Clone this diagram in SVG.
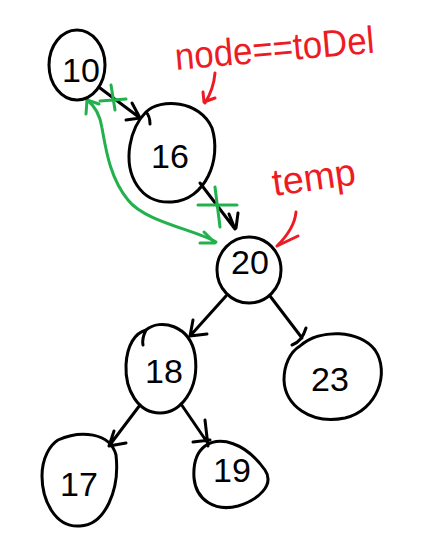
<svg xmlns="http://www.w3.org/2000/svg" width="434" height="547" viewBox="0 0 434 547">
  <style>
    .ink { fill: none; stroke: #000; stroke-width: 3; stroke-linecap: round; stroke-linejoin: round; }
    .green { fill: none; stroke: #22b14c; stroke-width: 3; stroke-linecap: round; stroke-linejoin: round; }
    .red { fill: none; stroke: #ed1c24; stroke-width: 3; stroke-linecap: round; stroke-linejoin: round; }
    .num { font-family: "Liberation Sans", "DejaVu Sans", sans-serif; font-size: 34px; fill: #000; text-anchor: middle; }
    .note { font-family: "Liberation Sans", "DejaVu Sans", sans-serif; font-size: 38px; fill: #ed1c24; }
  </style>
  <rect width="434" height="547" fill="#fff"/>

  <!-- tree links -->
  <g id="connectors">
    <path class="ink" d="M100 88 L140 118 M126 120 L140 118 L132 103"/>
    <path class="ink" d="M200 183 L235 229 M229 214 L235 229 M238 213 L236 228"/>
    <path class="ink" d="M226 296 L190 336 M190 336 L193 320 M190 336 L207 334"/>
    <path class="ink" d="M270 296 L302 338 M306 328 C303 338 298 343 292 345"/>
    <path class="ink" d="M140 405 L109 446 M109 446 L114 431 M109 446 L126 443"/>
    <path class="ink" d="M181 404 L207 442 M205 420 L208 446 M193 442 L210 440"/>
  </g>

  <!-- pointer swap -->
  <g id="swap">
    <path class="green" d="M216 242 C196 230 145 222 128 200 C110 178 106 150 102 128 C100 115 95 106 87 100"/>
    <path class="green" d="M87 100 L86 114 M87 100 L99 104"/>
    <path class="green" d="M204 232 L215 243 L200 243"/>
    <path class="green" d="M100 101 L126 99 M111 85 L115 110"/>
    <path class="green" d="M198 205 L237 205 M215 187 L220 227"/>
  </g>

  <g id="n10">
    <ellipse class="ink" cx="77" cy="65" rx="28" ry="35"/>
    <text class="num" x="81" y="82">10</text>
  </g>
  <g id="n16">
    <path class="ink" d="M146 112 C160 98 200 100 212 128 C222 160 205 200 172 202 C140 204 125 175 130 145 C133 128 140 118 146 112 C148 114 150 118 150 124"/>
    <text class="num" x="170" y="168">16</text>
  </g>
  <g id="n20">
    <ellipse class="ink" cx="249" cy="270" rx="32" ry="33"/>
    <text class="num" x="250" y="274">20</text>
  </g>
  <g id="n18">
    <path class="ink" d="M146 330 C160 318 190 325 195 355 C200 390 180 413 160 413 C138 413 125 390 126 365 C127 345 135 333 146 330 C143 336 142 340 143 345"/>
    <text class="num" x="164" y="383">18</text>
  </g>
  <g id="n23">
    <path class="ink" d="M300 346 C320 328 360 330 375 350 C390 372 378 410 345 418 C310 425 285 405 284 380 C284 365 290 352 300 346"/>
    <text class="num" x="330" y="391" font-size="28">23</text>
  </g>
  <g id="n17">
    <path class="ink" d="M58 440 C80 430 110 432 116 455 C120 490 105 525 80 526 C55 528 42 500 42 476 C42 458 50 445 58 440"/>
    <text class="num" x="79" y="496">17</text>
  </g>
  <g id="n19">
    <path class="ink" d="M205 446 C220 436 245 442 265 470 C275 485 258 500 238 506 C215 512 196 500 194 478 C193 462 197 452 205 446"/>
    <text class="num" x="232" y="482">19</text>
  </g>

  <g id="labels">
    <text class="note" x="176" y="70" textLength="200" lengthAdjust="spacingAndGlyphs" transform="rotate(-5 176 70)">node==toDel</text>
    <path class="red" d="M215 73 C214 85 210 95 205 103 M203 92 L204 102 L215 98"/>
    <text class="note" x="274" y="196" textLength="84" lengthAdjust="spacingAndGlyphs" transform="rotate(-8 274 196)">temp</text>
    <path class="red" d="M296 212 C295 224 288 235 277 246 M277 246 L298 236"/>
  </g>
</svg>
